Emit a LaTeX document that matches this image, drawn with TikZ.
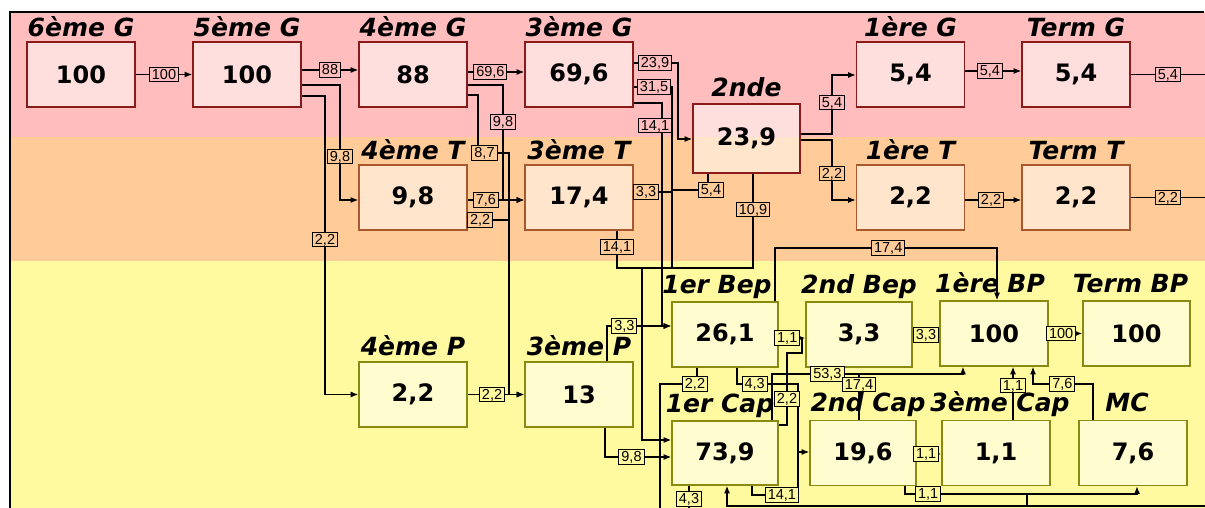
\documentclass[tikz,border=0pt]{standalone}
\usepackage{fontspec}
\usepackage{tikz}
\usetikzlibrary{arrows.meta}
\newfontfamily\dvfont{DejaVu Sans}
\newfontfamily\lbfont{Liberation Sans}
\definecolor{bandG}{HTML}{FFBDBD}
\definecolor{bandT}{HTML}{FFCC99}
\definecolor{bandP}{HTML}{FFFA9F}
\definecolor{lineG}{HTML}{8B1A1A}
\definecolor{lineT}{HTML}{A8582A}
\definecolor{lineP}{HTML}{8A8A10}
\tikzset{
  box/.style={draw, line width=1.6pt, fill=white, fill opacity=0.5, text opacity=1,
    minimum width=108pt, minimum height=65pt, inner sep=0pt,
    font=\dvfont\bfseries\fontsize{24}{24}\selectfont},
  boxG/.style={box, draw=lineG},
  boxT/.style={box, draw=lineT},
  boxP/.style={box, draw=lineP},
  ttl/.style={anchor=base, inner sep=0pt, font=\dvfont\bfseries\itshape\fontsize{25}{25}\selectfont},
  lbl/.style={draw, line width=1pt, inner xsep=2.5pt, inner ysep=1.5pt,
    text height=10.5pt, text depth=1pt, font=\lbfont\fontsize{14.5}{14.5}\selectfont},
  lblG/.style={lbl, fill=bandG},
  lblT/.style={lbl, fill=bandT},
  lblP/.style={lbl, fill=bandP},
  fl/.style={line width=1.2pt},
}

\begin{document}
\begin{tikzpicture}[x=1pt, y=-1pt, >={Latex[length=7.5pt,width=6pt]}]
    \useasboundingbox (0,0) rectangle (1205,508);
    % background bands
    \fill[white] (0,0) rectangle (1205,508);
    \fill[bandG] (10,12) rectangle (1205,137);
    \fill[bandT] (10,137) rectangle (1205,261);
    \fill[bandP] (10,261) rectangle (1205,508);
    \draw[line width=1.5pt] (10,508) -- (10,12) -- (1204,12);

    % general track
    \node[boxG] (g6) at (81,74.5) {100};
    \node[boxG] (g5) at (247,74.5) {100};
    \node[boxG] (g4) at (413,74.5) {88};
    \node[boxG] (g3) at (579,74.5) {69,6};
    \node[boxG, minimum width=107pt, minimum height=69pt] (snd) at (746.5,138.5) {23,9};
    \node[boxG] (g1) at (910.5,74.5) {5,4};
    \node[boxG] (gt) at (1076,74.5) {5,4};
    % technical track
    \node[boxT] (t4) at (413,197.5) {9,8};
    \node[boxT] (t3) at (579,197.5) {17,4};
    \node[boxT] (t1) at (910.5,197.5) {2,2};
    \node[boxT] (tt) at (1076,197.5) {2,2};
    % professional track
    \node[boxP] (p4) at (413,394.5) {2,2};
    \node[boxP] (p3) at (579,394.5) {13};
    \node[boxP, minimum width=106pt] (bep1) at (725,334.5) {26,1};
    \node[boxP, minimum width=106pt] (bep2) at (859,334.5) {3,3};
    \node[boxP] (bp1) at (994,333.5) {100};
    \node[boxP, minimum width=107pt] (bpt) at (1136.5,333.5) {100};
    \node[boxP, minimum width=106pt, minimum height=64pt] (cap1) at (725,453) {73,9};
    \node[boxP, minimum width=106pt] (cap2) at (863,453) {19,6};
    \node[boxP] (cap3) at (996,453) {1,1};
    \node[boxP] (mc) at (1133,453) {7,6};

    % titles
    \node[ttl] (g6t) at ([yshift=5pt]g6.north) {6ème G};
    \node[ttl] (g5t) at ([yshift=5pt]g5.north) {5ème G};
    \node[ttl] (g4t) at ([yshift=5pt]g4.north) {4ème G};
    \node[ttl] (g3t) at ([yshift=5pt]g3.north) {3ème G};
    \node[ttl] (sndt) at ([yshift=7pt]snd.north) {2nde};
    \node[ttl] (g1t) at ([yshift=5pt]g1.north) {1ère G};
    \node[ttl] (gtt) at ([yshift=5pt]gt.north) {Term G};
    \node[ttl] (t4t) at ([yshift=5pt]t4.north) {4ème T};
    \node[ttl] (t3t) at ([yshift=5pt]t3.north) {3ème T};
    \node[ttl] (t1t) at ([yshift=5pt]t1.north) {1ère T};
    \node[ttl] (ttt) at ([yshift=5pt]tt.north) {Term T};
    \node[ttl] (p4t) at ([yshift=6pt]p4.north) {4ème P};
    \node[ttl] (p3t) at ([yshift=6pt]p3.north) {3ème P};
    \node[ttl] (bep1t) at ([xshift=-8pt,yshift=8pt]bep1.north) {1er Bep};
    \node[ttl] (bep2t) at ([yshift=8pt]bep2.north) {2nd Bep};
    \node[ttl] (bp1t) at ([xshift=-4pt,yshift=8pt]bp1.north) {1ère BP};
    \node[ttl] (bptt) at ([xshift=-6pt,yshift=8pt]bpt.north) {Term BP};
    \node[ttl] (cap1t) at ([xshift=-5pt,yshift=8pt]cap1.north) {1er Cap};
    \node[ttl] (cap2t) at ([xshift=5pt,yshift=8pt]cap2.north) {2nd Cap};
    \node[ttl] (cap3t) at ([xshift=4pt,yshift=8pt]cap3.north) {3ème Cap};
    \node[ttl] (mct) at ([xshift=-6pt,yshift=8pt]mc.north) {MC};

    % free ends and junctions
    \coordinate (outG) at (1205,74.5);
    \coordinate (outT) at (1205,197.5);
    \coordinate (busL) at (642,268);
    \coordinate (busM) at (672,268);
    \coordinate (busR) at (753,268);
    \coordinate (out3) at (1205,506);

    % college flows
    \draw[fl,->] (g6.east) -- node[lblG] (e1) {100} (g5.west);
    \draw[fl,->] (g5.east |- 0,70) -- node[lblG] (e2) {88} (g4.west |- 0,70);
    \draw[fl,->] (g5.east |- 0,85) -- (340,85) -- node[pos=0.62,lblT] (e3) {9,8} (340,200) -- (t4.west |- 0,200);
    \draw[fl,->] (g5.east |- 0,96) -- (325,96) -- node[pos=0.48,lblT] (e4) {2,2} (325,394.5) -- (p4.west);
    \draw[fl,->] (g4.east |- 0,72) -- node[pos=0.4,lblG] (e5) {69,6} (g3.west |- 0,72);
    \draw[fl,->] (g4.east |- 0,85) -- (503,85) -- node[pos=0.32,lblG] (e6) {9,8} (503,200) -- (t3.west |- 0,200);
    \draw[fl,->] (g4.east |- 0,95) -- (478,95) -- (478,153) node[lblT,xshift=6.5pt] (e7) {8,7}
        -- (509,153) -- (509,394.5) -- (p3.west);
    \draw[fl,->] (t4.east |- 0,200) -- node[pos=0.32,lblT] (e8) {7,6} (t3.west |- 0,200);
    \draw[fl] (t4.east |- 0,220) -- node[pos=0.3,lblT] (e9) {2,2} (509,220);
    \draw[fl,->] (p4.east) -- node[pos=0.43,lblP] (e10) {2,2} (p3.west);

    % from 3eme
    \draw[fl,->] (g3.east |- 0,63) -- node[pos=0.48,lblG] (e11) {23,9} (678,63) -- (678,139) -- (snd.west |- 0,139);
    \draw[fl] (g3.east |- 0,87) -- node[pos=0.53,lblG] (e12) {31,5} (672,87) -- (busM);
    \draw[fl,->] (g3.east |- 0,103) -- (662,103) -- node[pos=0.1,lblG,xshift=-7pt] (e13) {14,1} (662,326) -- (bep1.west |- 0,326);
    \draw[fl] (t3.east |- 0,192) -- node[pos=0.32,lblT] (e14) {3,3} (672,192);
    \draw[fl] (snd.south -| 708,0) -- (708,190) node[lblT,xshift=3pt] (e15) {5,4} -- (672,190);
    \draw[fl] (t3.south -| 617,0) -- node[pos=0.43,lblT] (e16) {14,1} (617,268) -- (busL);
    \draw[fl] (snd.south -| busR) -- node[pos=0.38,lblT] (e17) {10,9} (busR) -- (busL);
    \draw[fl,->] (busL) -- (642,440) -- (cap1.west |- 0,440);
    \draw[fl,->] (p3.north -| 607,0) -- (607,326) -- node[pos=0.27,lblP] (e18) {3,3} (bep1.west |- 0,326);
    \draw[fl,->] (p3.south -| 605,0) -- (605,457) -- node[pos=0.4,lblP] (e19) {9,8} (cap1.west |- 0,457);

    % from 2nde
    \draw[fl,->] (snd.east |- 0,134) -- (832,134) -- node[pos=0.53,lblG] (e20) {5,4} (832,75) -- (g1.west |- 0,75);
    \draw[fl,->] (snd.east |- 0,140) -- (832,140) -- node[pos=0.56,lblT] (e21) {2,2} (832,200) -- (t1.west |- 0,200);
    \draw[fl,->] (g1.east |- 0,71) -- node[pos=0.44,lblG] (e22) {5,4} (gt.west |- 0,71);
    \draw[fl,->] (t1.east |- 0,200) -- node[pos=0.46,lblT] (e23) {2,2} (tt.west |- 0,200);
    \draw[fl] (gt.east) -- node[pos=0.5,lblG] (e24) {5,4} (outG);
    \draw[fl] (tt.east) -- node[pos=0.5,lblT] (e25) {2,2} (outT);

    % Bep and Cap flows
    \draw[fl] (bep1.south -| 697,0) -- (697,384) node[lblP,xshift=-2pt] (e26) {2,2} -- (660,384) -- (660,508);
    \draw[fl] (cap1.south -| 689,0) -- (689,508) node[pos=0.6,lblP] (e27) {4,3};
    \draw[fl,->] (bep1.south -| 737,0) -- (737,384) -- node[pos=0.29,lblP] (e28) {4,3} (798,384) -- (798,452) -- (cap2.west |- 0,452);
    \draw[fl] (cap1.south -| 752,0) -- (752,495) -- node[pos=0.65,lblP] (e29) {14,1} (798,495) -- (798,452);
    \draw[fl] (cap1.east |- 0,425) -- (787,425) -- node[pos=0.36,lblP] (e30) {2,2} (787,353) -- (802,353) -- (802,338);
    \draw[fl,->] (bep1.east |- 0,338) -- node[pos=0.32,lblP] (e31) {1,1} (bep2.west |- 0,338);
    \draw[fl,->] (cap1.north -| 772,0) -- (772,374) -- node[pos=0.29,lblP] (e32) {53,3} (963,374) -- (bp1.south -| 963,0);
    \draw[fl] (cap2.north -| 859,0) -- node[pos=0.77,lblP] (e33) {17,4} (859,374);
    \draw[fl,->] (bep1.north -| 775,0) -- (775,248) -- node[pos=0.51,lblT] (e34) {17,4} (997,248) -- (bp1.north -| 997,0);
    \draw[fl,->] (bep2.east |- 0,335) -- node[pos=0.5,lblP] (e35) {3,3} (bp1.west |- 0,335);
    \draw[fl,->] (bp1.east) -- node[pos=0.37,lblP] (e36) {100} (bpt.west);
    \draw[fl,->] (cap3.north -| 1013,0) -- node[pos=0.65,lblP] (e37) {1,1} (bp1.south -| 1013,0);
    \draw[fl,->] (mc.north -| 1093,0) -- (1093,384) -- node[pos=0.51,lblP] (e38) {7,6} (1033,384) -- (bp1.south -| 1033,0);
    \draw[fl,->] (cap2.east |- 0,454) -- node[pos=0.38,lblP] (e39) {1,1} (cap3.west |- 0,454);
    \draw[fl,->] (cap2.south -| 905,0) -- (905,494) -- node[pos=0.1,lblP] (e40) {1,1} (1137,494) -- (mc.south -| 1137,0);
    \draw[fl] (1027,494) -- (1027,506);
    \draw[fl,->] (out3) -- (727,506) -- (cap1.south -| 727,0);
\end{tikzpicture}
\end{document}
